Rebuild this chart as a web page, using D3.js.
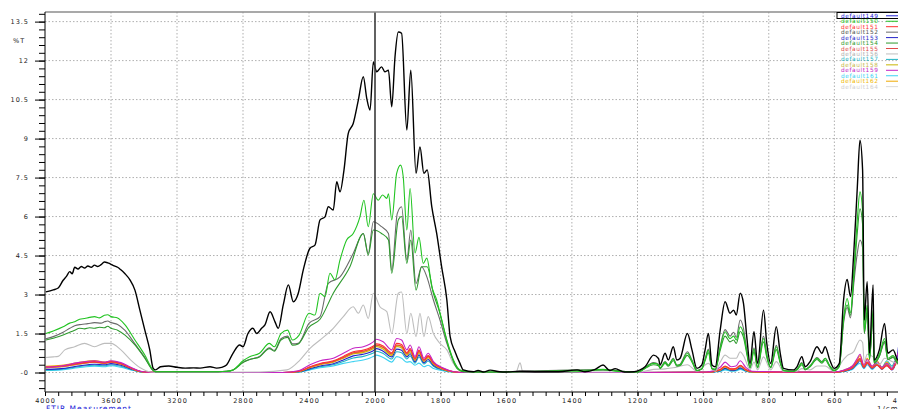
<!DOCTYPE html>
<html>
<head>
<meta charset="utf-8">
<script src="https://cdn.jsdelivr.net/npm/d3@7"></script>
<style>
  body { margin: 0; background: #fff; }
  svg { display: block; font-family: "DejaVu Sans", Verdana, sans-serif; }
</style>
</head>
<body>
<div id="chart"></div>
<script>
// series names and colours, in legend order
const names = ["default149", "default150", "default151", "default152", "default153", "default154", "default155",
    "default156", "default157", "default158", "default159", "default161", "default162", "default164"];
const lineColors = ["#000000", "#22c422", "#ff3030", "#6a6a6a", "#2424c8", "#2e9a2e", "#e04848",
    "#bdbdbd", "#20b4c4", "#c8b400", "#c424c4", "#3cd2f2", "#f0a800", "#dadada"];
const legendText = ["#2323d8", "#22c422", "#ff3030", "#505050", "#2424c8", "#2e9a2e", "#e04848",
    "#b0b0b0", "#20b4c4", "#c8b84a", "#c424c4", "#3cd2f2", "#f0b800", "#d0d0d0"];

const xTicks = [4000, 3600, 3200, 2800, 2400, 2000, 1800, 1600, 1400, 1200, 1000, 800, 600, 400];
const yTicks = [0, 1.5, 3, 4.5, 6, 7.5, 9, 10.5, 12, 13.5];
const yTickLabels = ["-0", "1.5", "3", "4.5", "6", "7.5", "9", "10.5", "12", "13.5"];

// large spectra: [wavenumber, %T]
const s149 = [[3995,3.10],[3950,3.18],[3920,3.25],[3890,3.55],[3870,3.70],[3850,3.88],[3835,3.80],[3820,4.05],[3800,3.98],[3780,4.08],[3760,4.02],[3740,4.10],[3720,4.05],[3700,4.13],[3680,4.08],[3660,4.15],[3640,4.25],[3620,4.22],[3605,4.18],[3580,4.10],[3560,4.05],[3540,3.95],[3515,3.80],[3485,3.56],[3455,3.17],[3425,2.40],[3395,1.63],[3365,0.87],[3345,0.17],[3330,0.10],
  [3300,0.22],[3250,0.25],[3200,0.20],[3150,0.17],[3100,0.18],[3060,0.17],[3000,0.22],[2960,0.17],[2930,0.20],[2900,0.29],[2860,0.75],[2820,1.06],[2800,0.99],[2770,1.50],[2740,1.70],[2717,1.50],[2687,1.70],[2667,1.83],[2636,2.34],[2606,1.95],[2586,1.70],[2556,2.60],[2525,3.37],[2495,2.72],[2465,3.05],[2435,3.94],[2394,4.78],[2364,4.90],[2333,5.87],[2303,5.99],[2283,6.38],[2253,6.25],[2232,7.34],[2212,6.95],[2188,7.79],[2162,9.20],[2132,9.58],[2101,10.48],[2071,11.38],[2050,10.55],[2030,10.10],[2010,11.95],
  [1995,11.57],[1980,11.76],[1970,11.57],[1959,11.63],[1949,10.22],[1939,12.15],[1929,13.10],[1919,13.05],[1903,9.33],[1891,11.63],[1875,7.66],[1863,8.68],[1851,7.66],[1841,7.79],[1827,6.38],[1812,5.35],[1797,4.07],[1781,2.79],[1771,1.38],[1756,0.80],[1741,0.35],[1731,0.10],[1700,0.03],
  [1686,0.08],[1670,0.02],[1649,0.09],[1620,0.03],[1600,0.02],[1560,0.05],[1500,0.03],[1440,0.03],[1384,0.10],[1360,0.03],[1329,0.12],[1305,0.29],[1285,0.08],[1268,0.15],[1240,0.02],[1210,0.03],
  [1192,0.10],[1177,0.22],[1151,0.67],[1136,0.54],[1131,0.29],[1116,0.74],[1106,0.48],[1091,0.99],[1080,0.48],[1070,0.55],[1048,1.50],[1034,0.87],[1019,0.16],[1004,0.29],[994,0.87],[984,1.50],[973,0.29],[963,0.22],[948,1.63],[933,2.72],[918,2.28],[907,2.40],[899,2.21],[887,3.05],[877,2.66],[867,1.38],[857,0.35],[845,1.57],[834,0.35],[816,2.40],[806,1.12],[794,0.35],[777,1.76],[765,0.74],[755,0.16],[725,0.10],[714,0.22],[699,0.61],[689,0.22],[674,0.42],[653,0.99],[638,0.74],[628,0.99],[614,0.48],[601,0.16],[585,0.35],[572,2.79],[561,3.58],[551,2.92],[541,4.58],[530,7.15],[522,8.94],[514,7.79],[509,2.02],[500,3.49],[493,0.74],[482,3.37],[479,0.48],[463,0.87],[447,1.89],[437,0.74],[421,0.87],[406,0.48],[400,0.60]];

const s150 = [[3995,1.50],[3950,1.60],[3890,1.76],[3850,1.90],[3820,1.95],[3790,2.05],[3760,2.08],[3730,2.12],[3700,2.15],[3670,2.10],[3640,2.20],[3620,2.22],[3600,2.15],[3560,2.10],[3515,1.83],[3455,1.25],[3395,0.67],[3345,0.10],[3330,0.03],
  [3200,0.03],[3000,0.03],[2900,0.05],[2860,0.10],[2800,0.45],[2760,0.61],[2700,0.74],[2640,1.12],[2610,0.99],[2570,1.50],[2530,1.63],[2500,1.25],[2460,1.44],[2400,2.28],[2364,2.21],[2333,3.05],[2303,2.92],[2273,3.82],[2243,3.56],[2212,4.33],[2172,5.10],[2132,5.35],[2091,6.00],[2067,6.63],[2041,5.61],[2010,6.88],
  [1990,6.63],[1977,6.83],[1964,6.70],[1959,6.88],[1949,5.87],[1934,7.66],[1922,7.98],[1914,7.53],[1903,5.48],[1893,7.08],[1878,4.60],[1866,5.20],[1853,4.20],[1842,4.40],[1827,3.30],[1812,2.79],[1797,2.02],[1781,1.25],[1761,0.48],[1741,0.10],[1700,0.02],
  [1650,0.02],[1384,0.03],[1305,0.12],[1268,0.05],[1200,0.02],
  [1192,0.05],[1151,0.35],[1136,0.30],[1131,0.18],[1116,0.40],[1106,0.28],[1091,0.52],[1080,0.28],[1070,0.30],[1048,0.74],[1034,0.45],[1019,0.08],[1004,0.15],[994,0.50],[984,0.85],[973,0.15],[963,0.12],[948,0.95],[933,1.57],[918,1.30],[907,1.40],[899,1.25],[887,1.76],[877,1.50],[867,0.80],[857,0.20],[845,0.90],[834,0.20],[816,1.31],[806,0.65],[794,0.20],[777,0.99],[765,0.40],[755,0.08],[725,0.05],[714,0.12],[699,0.35],[689,0.12],[674,0.25],[653,0.55],[638,0.40],[628,0.55],[614,0.25],[601,0.08],[585,0.25],[572,2.10],[561,2.85],[551,2.30],[541,3.80],[530,5.90],[522,6.95],[514,6.20],[509,1.60],[500,2.60],[493,0.55],[482,2.40],[479,0.40],[463,0.70],[447,1.31],[437,0.55],[421,0.65],[406,0.40],[400,0.45]];

const s152 = [[3995,1.30],[3950,1.38],[3890,1.55],[3850,1.70],[3820,1.80],[3780,1.85],[3740,1.88],[3700,1.92],[3660,1.90],[3640,1.95],[3620,1.98],[3600,1.92],[3560,1.85],[3515,1.62],[3455,1.10],[3395,0.58],[3345,0.08],[3330,0.03],
  [3200,0.03],[3000,0.03],[2900,0.05],[2860,0.10],[2800,0.40],[2760,0.50],[2700,0.62],[2640,0.95],[2610,0.85],[2570,1.30],[2530,1.40],[2500,1.10],[2465,1.12],[2400,1.89],[2333,2.15],[2283,3.43],[2212,3.68],[2132,4.58],[2071,5.35],[2041,4.58],[2010,5.80],
  [1980,5.61],[1959,5.35],[1949,3.94],[1932,6.12],[1919,6.38],[1903,4.33],[1891,5.48],[1875,3.43],[1858,4.07],[1842,3.68],[1822,2.79],[1802,2.02],[1781,1.12],[1751,0.22],[1730,0.03],
  [1650,0.02],[1558,0.05],[1305,0.10],[1200,0.02],
  [1192,0.05],[1151,0.38],[1136,0.32],[1131,0.18],[1116,0.42],[1106,0.28],[1091,0.55],[1080,0.28],[1070,0.32],[1048,0.80],[1034,0.48],[1019,0.08],[1004,0.15],[994,0.52],[984,0.90],[973,0.15],[963,0.12],[948,1.00],[933,1.65],[918,1.40],[907,1.55],[899,1.35],[887,2.02],[877,1.70],[867,0.85],[857,0.20],[845,0.95],[834,0.20],[816,1.40],[806,0.70],[794,0.20],[777,1.05],[765,0.42],[755,0.08],[725,0.05],[714,0.12],[699,0.38],[689,0.12],[674,0.26],[653,0.58],[638,0.42],[628,0.55],[614,0.26],[601,0.08],[585,0.26],[572,1.90],[561,2.50],[551,2.10],[541,3.40],[530,4.60],[522,5.10],[514,4.80],[509,1.50],[500,2.30],[493,0.50],[482,2.20],[479,0.38],[463,0.62],[447,1.15],[437,0.50],[421,0.60],[406,0.35],[400,0.40]];

const s154 = [[3995,1.25],[3950,1.32],[3890,1.44],[3850,1.55],[3820,1.63],[3790,1.70],[3760,1.68],[3730,1.72],[3700,1.70],[3670,1.74],[3640,1.72],[3620,1.78],[3600,1.70],[3560,1.63],[3515,1.44],[3455,1.06],[3395,0.55],[3345,0.08],[3330,0.03],
  [3200,0.03],[3000,0.03],[2900,0.05],[2860,0.10],[2800,0.38],[2760,0.50],[2700,0.60],[2640,0.92],[2610,0.82],[2570,1.25],[2530,1.35],[2500,1.05],[2465,1.10],[2400,1.75],[2333,2.05],[2253,3.05],[2152,4.07],[2071,5.35],[2041,4.52],[2010,5.48],
  [1980,5.35],[1959,5.10],[1949,3.82],[1929,5.87],[1919,6.00],[1903,4.20],[1891,5.10],[1875,3.17],[1858,4.07],[1841,4.07],[1822,3.05],[1802,2.28],[1776,0.99],[1751,0.17],[1730,0.03],
  [1650,0.02],[1305,0.10],[1200,0.02],
  [1192,0.05],[1151,0.30],[1136,0.26],[1131,0.15],[1116,0.35],[1106,0.24],[1091,0.46],[1080,0.24],[1070,0.27],[1048,0.66],[1034,0.40],[1019,0.07],[1004,0.13],[994,0.45],[984,0.76],[973,0.13],[963,0.10],[948,0.85],[933,1.40],[918,1.18],[907,1.25],[899,1.12],[887,1.58],[877,1.35],[867,0.72],[857,0.18],[845,0.80],[834,0.18],[816,1.18],[806,0.58],[794,0.18],[777,0.88],[765,0.36],[755,0.07],[725,0.04],[714,0.10],[699,0.30],[689,0.10],[674,0.22],[653,0.50],[638,0.36],[628,0.48],[614,0.22],[601,0.07],[585,0.22],[572,2.00],[561,2.60],[551,2.20],[541,3.60],[530,5.40],[522,6.30],[514,5.70],[509,1.50],[500,2.40],[493,0.50],[482,2.20],[479,0.36],[463,0.62],[447,1.20],[437,0.50],[421,0.58],[406,0.36],[400,0.40]];

const s156 = [[3995,0.58],[3950,0.60],[3920,0.62],[3880,0.87],[3820,0.99],[3760,1.12],[3700,0.99],[3640,1.12],[3600,1.12],[3540,0.87],[3480,0.48],[3420,0.17],[3360,0.02],[3330,0.01],
  [3000,0.01],[2700,0.02],[2535,0.10],[2455,0.48],[2394,0.93],[2333,1.25],[2253,1.70],[2192,2.15],[2132,2.53],[2101,2.28],[2071,2.60],[2041,2.08],[2010,3.05],
  [1985,2.53],[1964,2.34],[1949,1.50],[1929,3.05],[1919,3.10],[1903,1.50],[1891,2.28],[1875,1.38],[1863,2.28],[1851,1.38],[1838,2.15],[1822,1.50],[1802,1.12],[1781,0.87],[1761,0.35],[1741,0.10],[1720,0.02],
  [1600,0.02],[1570,0.03],[1558,0.37],[1550,0.05],[1400,0.02],[1200,0.02],
  [1192,0.02],[1151,0.12],[1116,0.14],[1091,0.18],[1048,0.30],[1019,0.05],[984,0.35],[963,0.05],[948,0.40],[933,0.67],[918,0.55],[899,0.55],[887,0.80],[877,0.65],[857,0.12],[845,0.40],[834,0.10],[816,0.60],[794,0.10],[777,0.42],[755,0.04],[714,0.05],[699,0.15],[674,0.10],[653,0.25],[628,0.25],[601,0.04],[572,0.50],[561,0.65],[541,0.80],[530,1.10],[522,1.25],[514,1.15],[509,0.40],[500,0.70],[482,0.60],[463,0.30],[447,0.55],[421,0.40],[400,0.30]];

// small spectra share one wavenumber grid
const wnSmall = [3995,3900,3800,3700,3640,3600,3540,3480,3420,3370,3000,2560,2460,2394,2333,2253,2192,2132,2071,2030,2010,1995,1975,1949,1934,1919,1903,1893,1878,1866,1851,1838,1822,1790,1760,1730,1600,1200,990,948,933,915,900,887,870,850,700,600,570,545,530,522,510,500,485,470,455,440,425,410,402];
const s151 = [0.22,0.25,0.35,0.42,0.38,0.42,0.35,0.18,0.04,0.01,0.00,0.00,0.05,0.22,0.35,0.45,0.62,0.80,0.86,0.95,1.02,1.10,1.02,0.76,1.12,1.08,0.76,0.92,0.55,0.86,0.50,0.65,0.38,0.14,0.03,0.00,0.00,0.00,0.01,0.12,0.25,0.14,0.16,0.28,0.12,0.03,0.01,0.01,0.08,0.20,0.45,0.55,0.22,0.40,0.20,0.30,0.15,0.28,0.12,0.45,0.55];
const s153 = [0.12,0.15,0.25,0.32,0.30,0.34,0.28,0.14,0.03,0.01,0.00,0.00,0.03,0.15,0.25,0.34,0.48,0.64,0.70,0.78,0.84,0.92,0.82,0.60,0.90,0.86,0.60,0.72,0.42,0.68,0.38,0.50,0.28,0.10,0.02,0.00,0.00,0.00,0.01,0.07,0.16,0.08,0.10,0.18,0.07,0.02,0.01,0.01,0.05,0.15,0.35,0.45,0.18,0.35,0.15,0.30,0.12,0.30,0.10,0.50,1.30];
const s155 = [0.20,0.23,0.33,0.40,0.36,0.40,0.33,0.17,0.04,0.01,0.00,0.00,0.05,0.20,0.33,0.42,0.58,0.76,0.82,0.90,0.97,1.05,0.97,0.72,1.06,1.02,0.72,0.87,0.52,0.82,0.47,0.62,0.36,0.13,0.03,0.00,0.00,0.00,0.01,0.11,0.23,0.13,0.15,0.26,0.11,0.03,0.01,0.01,0.07,0.18,0.42,0.50,0.20,0.36,0.18,0.28,0.14,0.25,0.11,0.40,0.50];
const s157 = [0.10,0.13,0.22,0.28,0.26,0.30,0.24,0.12,0.02,0.01,0.00,0.00,0.02,0.12,0.22,0.30,0.42,0.56,0.62,0.70,0.75,0.82,0.73,0.52,0.80,0.76,0.52,0.64,0.36,0.60,0.33,0.44,0.24,0.08,0.02,0.00,0.00,0.00,0.01,0.06,0.14,0.07,0.08,0.15,0.06,0.02,0.01,0.01,0.05,0.15,0.40,0.50,0.20,0.40,0.18,0.35,0.20,0.45,0.25,0.55,0.40];
const s158 = [0.18,0.22,0.32,0.40,0.35,0.40,0.32,0.16,0.03,0.01,0.00,0.00,0.04,0.18,0.30,0.40,0.55,0.72,0.77,0.86,0.92,1.00,0.90,0.66,1.00,0.95,0.66,0.80,0.47,0.76,0.43,0.57,0.32,0.11,0.02,0.00,0.00,0.00,0.01,0.09,0.20,0.11,0.13,0.24,0.09,0.02,0.01,0.01,0.06,0.18,0.40,0.48,0.20,0.38,0.18,0.32,0.14,0.30,0.12,0.35,0.30];
const s159 = [0.20,0.25,0.38,0.45,0.40,0.45,0.38,0.20,0.05,0.01,0.00,0.00,0.08,0.30,0.45,0.55,0.74,0.93,0.99,1.10,1.18,1.28,1.18,0.87,1.31,1.25,0.87,1.06,0.61,0.99,0.55,0.74,0.42,0.16,0.03,0.00,0.00,0.00,0.02,0.20,0.40,0.22,0.25,0.45,0.20,0.05,0.02,0.02,0.10,0.25,0.55,0.70,0.30,0.50,0.25,0.40,0.20,0.35,0.15,0.60,0.90];
const s161 = [0.08,0.10,0.18,0.24,0.22,0.26,0.20,0.10,0.02,0.00,0.00,0.00,0.02,0.10,0.18,0.25,0.35,0.42,0.48,0.56,0.62,0.67,0.58,0.40,0.61,0.55,0.40,0.42,0.28,0.36,0.22,0.28,0.15,0.06,0.01,0.00,0.00,0.00,0.01,0.04,0.10,0.05,0.06,0.12,0.05,0.01,0.01,0.01,0.04,0.12,0.30,0.35,0.15,0.30,0.12,0.28,0.15,0.35,0.20,0.40,0.30];
const s162 = [0.24,0.28,0.38,0.46,0.40,0.44,0.36,0.18,0.04,0.01,0.00,0.00,0.04,0.20,0.32,0.42,0.58,0.75,0.80,0.90,0.96,1.05,0.95,0.70,1.05,1.00,0.70,0.85,0.50,0.80,0.46,0.60,0.34,0.12,0.02,0.00,0.00,0.00,0.01,0.10,0.22,0.12,0.14,0.26,0.10,0.03,0.01,0.01,0.10,0.25,0.50,0.65,0.25,0.55,0.22,0.45,0.18,0.40,0.15,0.50,0.35];
const s164 = [0.15,0.20,0.30,0.38,0.34,0.38,0.30,0.15,0.03,0.01,0.00,0.00,0.04,0.18,0.30,0.40,0.55,0.70,0.75,0.84,0.90,0.98,0.88,0.65,0.98,0.92,0.65,0.78,0.45,0.74,0.42,0.55,0.30,0.10,0.02,0.00,0.00,0.00,0.01,0.08,0.18,0.10,0.12,0.22,0.08,0.02,0.01,0.01,0.08,0.20,0.40,0.55,0.25,0.45,0.20,0.35,0.18,0.30,0.15,0.35,0.30];

const W = 898, H = 409;
const plotLeft = 45, plotTop = 12, plotBottom = 392, plotRight = 898;

const x = d3.scaleLinear().domain([4000, 2000, 400]).range([plotLeft, 375, 900]);
const y = d3.scaleLinear().domain([-0.75, 13.87]).range([plotBottom, plotTop]);

const svg = d3.select("#chart").append("svg")
    .attr("width", W)
    .attr("height", H);

svg.append("defs").append("clipPath")
    .attr("id", "plot-clip")
    .append("rect")
    .attr("x", plotLeft).attr("y", plotTop)
    .attr("width", plotRight - plotLeft).attr("height", plotBottom - plotTop);

// grid
svg.append("g").selectAll("line")
    .data(yTicks)
    .enter().append("line")
    .attr("x1", plotLeft).attr("x2", plotRight)
    .attr("y1", d => y(d)).attr("y2", d => y(d))
    .attr("stroke", "#9a9a9a")
    .attr("stroke-width", 0.8)
    .attr("stroke-dasharray", "1.5,2");

svg.append("g").selectAll("line")
    .data(xTicks.filter(d => d !== 4000 && d !== 2000 && d !== 400))
    .enter().append("line")
    .attr("x1", d => x(d)).attr("x2", d => x(d))
    .attr("y1", plotTop).attr("y2", plotBottom)
    .attr("stroke", "#9a9a9a")
    .attr("stroke-width", 0.8)
    .attr("stroke-dasharray", "1.5,2");

// spectra
const line = d3.line()
    .x(d => x(d[0]))
    .y(d => y(d[1]))
    .curve(d3.curveMonotoneX);

const small = { default151: s151, default153: s153, default155: s155, default157: s157, default158: s158,
    default159: s159, default161: s161, default162: s162, default164: s164 };
const big = { default149: s149, default150: s150, default152: s152, default154: s154, default156: s156 };

const drawOrder = ["default164", "default161", "default157", "default153", "default158", "default162",
    "default155", "default151", "default159", "default156", "default152", "default154", "default150", "default149"];

const plot = svg.append("g").attr("clip-path", "url(#plot-clip)");

drawOrder.forEach(name => {
    const i = names.indexOf(name);
    const pts = big[name] ? big[name] : wnSmall.map((w, k) => [w, small[name][k]]);
    plot.append("path")
        .datum(pts)
        .attr("d", line)
        .attr("fill", "none")
        .attr("stroke", lineColors[i])
        .attr("stroke-width", name === "default149" ? 1.4 : 1.1)
        .attr("stroke-linejoin", "round");
});

// solid marker at the scale break
svg.append("line")
    .attr("x1", x(2000)).attr("x2", x(2000))
    .attr("y1", plotTop).attr("y2", plotBottom)
    .attr("stroke", "#3a3a3a")
    .attr("stroke-width", 1.6);

// frame
svg.append("line")
    .attr("x1", plotLeft).attr("x2", plotRight)
    .attr("y1", plotTop).attr("y2", plotTop)
    .attr("stroke", "#8c8c8c")
    .attr("stroke-width", 1.4);

// x axis
const xMinor = d3.range(4000, 2000, -80).concat(d3.range(2000, 399, -40));
svg.append("g")
    .attr("transform", `translate(0,${plotBottom})`)
    .call(d3.axisBottom(x).tickValues(xMinor).tickSize(4).tickFormat(""))
    .call(g => g.select(".domain").attr("d", `M${plotLeft},0H${plotRight}`));

const xAxis = svg.append("g")
    .attr("transform", `translate(0,${plotBottom})`)
    .call(d3.axisBottom(x).tickValues(xTicks).tickSize(4).tickPadding(2).tickFormat(d3.format("d")));
xAxis.select(".domain").remove();
xAxis.selectAll("text")
    .style("font-family", "'DejaVu Sans', sans-serif")
    .style("font-size", "6.5px")
    .style("letter-spacing", "1px")
    .attr("fill", "#222");

// y axis
const yMinor = d3.range(-0.6, 13.85, 0.3);
svg.append("g")
    .attr("transform", `translate(${plotLeft},0)`)
    .call(d3.axisLeft(y).tickValues(yMinor).tickSize(6).tickFormat(""))
    .call(g => g.select(".domain").attr("d", `M0,${plotTop}V${plotBottom}`));

const yAxis = svg.append("g")
    .attr("transform", `translate(${plotLeft},0)`)
    .call(d3.axisLeft(y).tickValues(yTicks).tickSize(10).tickPadding(6)
        .tickFormat((d, i) => yTickLabels[i]));
yAxis.select(".domain").remove();
yAxis.selectAll("text")
    .style("font-family", "'DejaVu Sans', sans-serif")
    .style("font-size", "6.5px")
    .style("letter-spacing", "1px")
    .attr("fill", "#222");

svg.append("text")
    .attr("x", 13).attr("y", 43)
    .style("font-size", "6.5px")
    .style("letter-spacing", "1px")
    .attr("fill", "#222")
    .text("%T");

svg.append("text")
    .attr("x", plotLeft + 1).attr("y", 411)
    .style("font-size", "7.5px")
    .style("letter-spacing", "1px")
    .attr("fill", "#2323d8")
    .text("FTIR Measurement");

svg.append("text")
    .attr("x", 877).attr("y", 411)
    .style("font-size", "7px")
    .style("letter-spacing", "1px")
    .attr("fill", "#222")
    .text("1/cm");

// legend
const legend = svg.append("g").attr("transform", "translate(841,13)");
legend.append("rect")
    .attr("x", -4).attr("y", -0.5)
    .attr("width", 62).attr("height", 6)
    .attr("fill", "none")
    .attr("stroke", "#000")
    .attr("stroke-width", 1);

const item = legend.selectAll("g.item")
    .data(names)
    .enter().append("g")
    .attr("class", "item")
    .attr("transform", (d, i) => `translate(0,${4.8 + i * 5.45})`);

item.append("text")
    .style("font-size", "5.8px")
    .style("letter-spacing", "0.6px")
    .attr("fill", (d, i) => legendText[i])
    .text(d => d);

item.append("line")
    .attr("x1", 45).attr("x2", 57)
    .attr("y1", -2).attr("y2", -2)
    .attr("stroke", (d, i) => lineColors[i] === "#000000" ? "#2323d8" : lineColors[i])
    .attr("stroke-width", 1);
</script>
</body>
</html>
